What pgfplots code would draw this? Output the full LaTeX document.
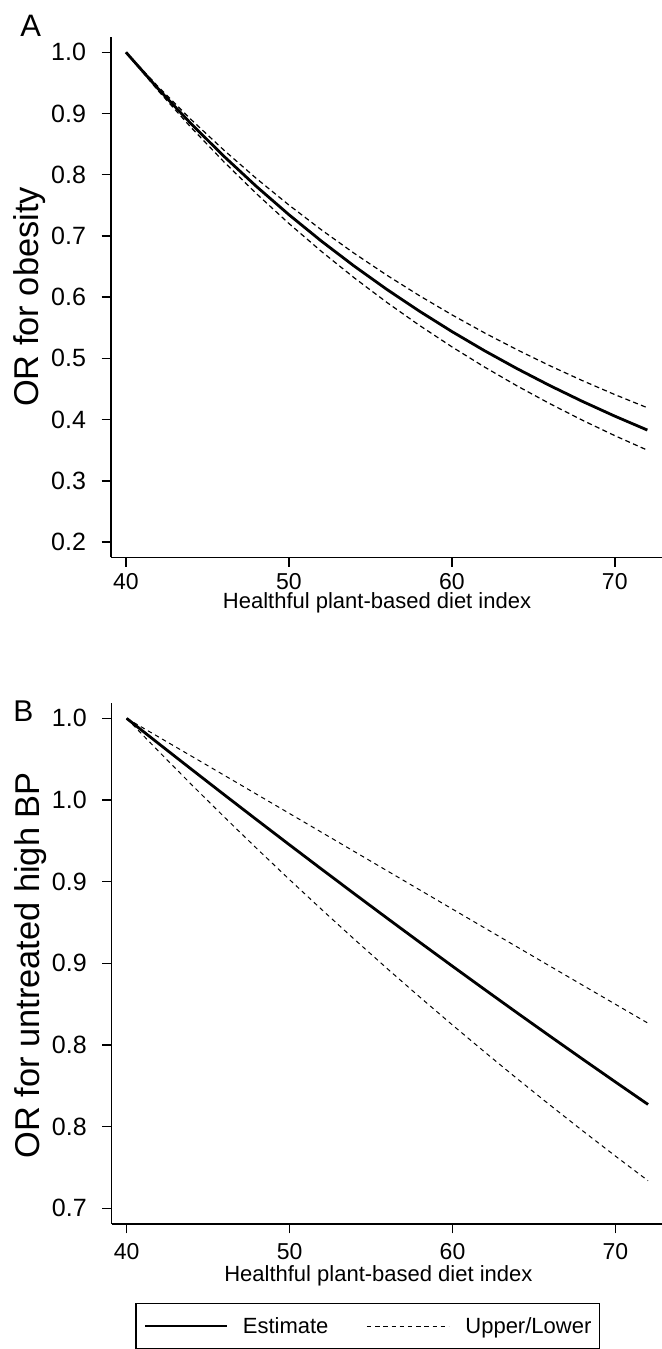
\documentclass[border=0pt]{standalone}
\usepackage{pgfplots}
\pgfplotsset{compat=1.18}
\usepackage{fontspec}
\setmainfont{Liberation Sans}

\pgfplotsset{
  orplot/.style={
    scale only axis, width=275.5pt,
    axis lines*=left, axis line style={black, line width=0.8pt},
    xmin=39.08, xmax=72.9, xtick={40,50,60,70},
    tick align=outside, major tick length=4.65pt,
    major tick style={black, line width=0.75pt},
    xticklabel style={font=\fontsize{11.5}{13}\selectfont, anchor=north, inner sep=0pt},
    yticklabel style={font=\fontsize{12.5}{14}\selectfont, anchor=east, inner sep=0pt, xshift=-7.65pt},
    /pgf/number format/assume math mode=true,
    xlabel style={font=\fontsize{11}{13}\selectfont, inner sep=0pt},
    ylabel style={font=\fontsize{17.2}{20}\selectfont, inner sep=0pt},
    clip=false,
  },
  est/.style={black, line width=1.4pt},
  ci/.style={black, line width=0.6pt, dash pattern=on 2.5pt off 1.7pt},
  ciB/.style={black, line width=0.5pt, dash pattern=on 2.2pt off 1.9pt},
}

\begin{document}
\begin{tikzpicture}
\useasboundingbox (0pt,0pt) rectangle (331pt,-674.5pt);

% panel A
\begin{axis}[orplot, at={(55.5pt,-278.65pt)}, anchor=south west, height=260.3pt,
  ymin=0.175, ymax=1.0255, ytick={0.2,0.3,0.4,0.5,0.6,0.7,0.8,0.9,1.0},
  yticklabel style={/pgf/number format/.cd, fixed, fixed zerofill, precision=1},
  xticklabel style={yshift=-3.3pt},
  xlabel={Healthful plant-based diet index},
  xlabel style={at={(axis description cs:0.4828,0)}, anchor=base, yshift=-25.8pt},
  ylabel={OR for obesity},
  ylabel style={at={(axis description cs:-0.1307,0.5)}, anchor=base}]
\addplot[est] coordinates {(40,1.0000) (42,0.93965) (44,0.88320) (46,0.83040) (48,0.78099)
  (50,0.73473) (52,0.69144) (54,0.65087) (56,0.61286) (58,0.57728) (60,0.54389)
  (62,0.51260) (64,0.48326) (66,0.45574) (68,0.42990) (70,0.40566) (72,0.38289)};
\addplot[ci] coordinates {(40,1.0000) (42,0.94316) (44,0.89005) (46,0.84040) (48,0.79396)
  (50,0.75051) (52,0.70984) (54,0.67175) (56,0.63604) (58,0.60259) (60,0.57121)
  (62,0.54176) (64,0.51413) (66,0.48817) (68,0.46380) (70,0.44087) (72,0.41932)};
\addplot[ci] coordinates {(40,1.0000) (42,0.93650) (44,0.87703) (46,0.82134) (48,0.76919)
  (50,0.72034) (52,0.67460) (54,0.63176) (56,0.59165) (58,0.55408) (60,0.51889)
  (62,0.48594) (64,0.45509) (66,0.42619) (68,0.39913) (70,0.37378) (72,0.35005)};
\node[anchor=base west, inner sep=0pt] at (rel axis cs:-0.165,1.0) {\fontsize{15.5}{17}\selectfont A};
\end{axis}

% panel B
\begin{axis}[orplot, at={(55.85pt,-612pt)}, anchor=south west, height=260.65pt,
  ymin=0.6904, ymax=1.0096, ytick={0.7,0.75,0.8,0.85,0.9,0.95,1.0},
  yticklabels={0.7,0.8,0.8,0.9,0.9,1.0,1.0},
  xticklabel style={yshift=-4.8pt},
  xlabel={Healthful plant-based diet index},
  xlabel style={at={(axis description cs:0.484,0)}, anchor=base, yshift=-28.85pt},
  ylabel={OR for untreated high BP},
  ylabel style={at={(axis description cs:-0.1303,0.496)}, anchor=base},
  legend columns=2, legend cell align=left,
  legend image code/.code={\draw[#1] (0pt,0pt) -- (41pt,0pt);},
  legend style={at={(axis description cs:0.4646,-0.151)}, anchor=north,
    draw=black, line width=0.8pt, inner xsep=4pt, inner ysep=5.7pt,
    font=\fontsize{11}{13}\selectfont,
    nodes={inner sep=0pt, text height=9.5pt, text depth=1.62pt},
    /tikz/every odd column/.append style={column sep=7pt},
    /tikz/every even column/.append style={column sep=19pt}}]
\addplot[est] coordinates {(40,1.0000) (42,0.98426) (44,0.96864) (46,0.95314) (48,0.93777)
  (50,0.92252) (52,0.90740) (54,0.89241) (56,0.87755) (58,0.86282) (60,0.84823)
  (62,0.83378) (64,0.81946) (66,0.80529) (68,0.79125) (70,0.77736) (72,0.76361)};
\addlegendentry{Estimate}
\addplot[ciB] coordinates {(40,1.0000) (42,0.98839) (44,0.97675) (46,0.96509) (48,0.95341)
  (50,0.94172) (52,0.93002) (54,0.91831) (56,0.90660) (58,0.89490) (60,0.88320)
  (62,0.87152) (64,0.85984) (66,0.84818) (68,0.83655) (70,0.82494) (72,0.81335)};
\addlegendentry{\hspace{1pt}Upper/Lower\hspace{8pt}}
\addplot[ciB, forget plot] coordinates {(40,1.0000) (42,0.97942) (44,0.95925) (46,0.93951) (48,0.92017)
  (50,0.90123) (52,0.88267) (54,0.86450) (56,0.84671) (58,0.82928) (60,0.81221)
  (62,0.79549) (64,0.77911) (66,0.76308) (68,0.74737) (70,0.73198) (72,0.71691)};
\node[anchor=base west, inner sep=0pt] at (rel axis cs:-0.179,0.9636) {\fontsize{15}{17}\selectfont B};
\end{axis}
\end{tikzpicture}
\end{document}
